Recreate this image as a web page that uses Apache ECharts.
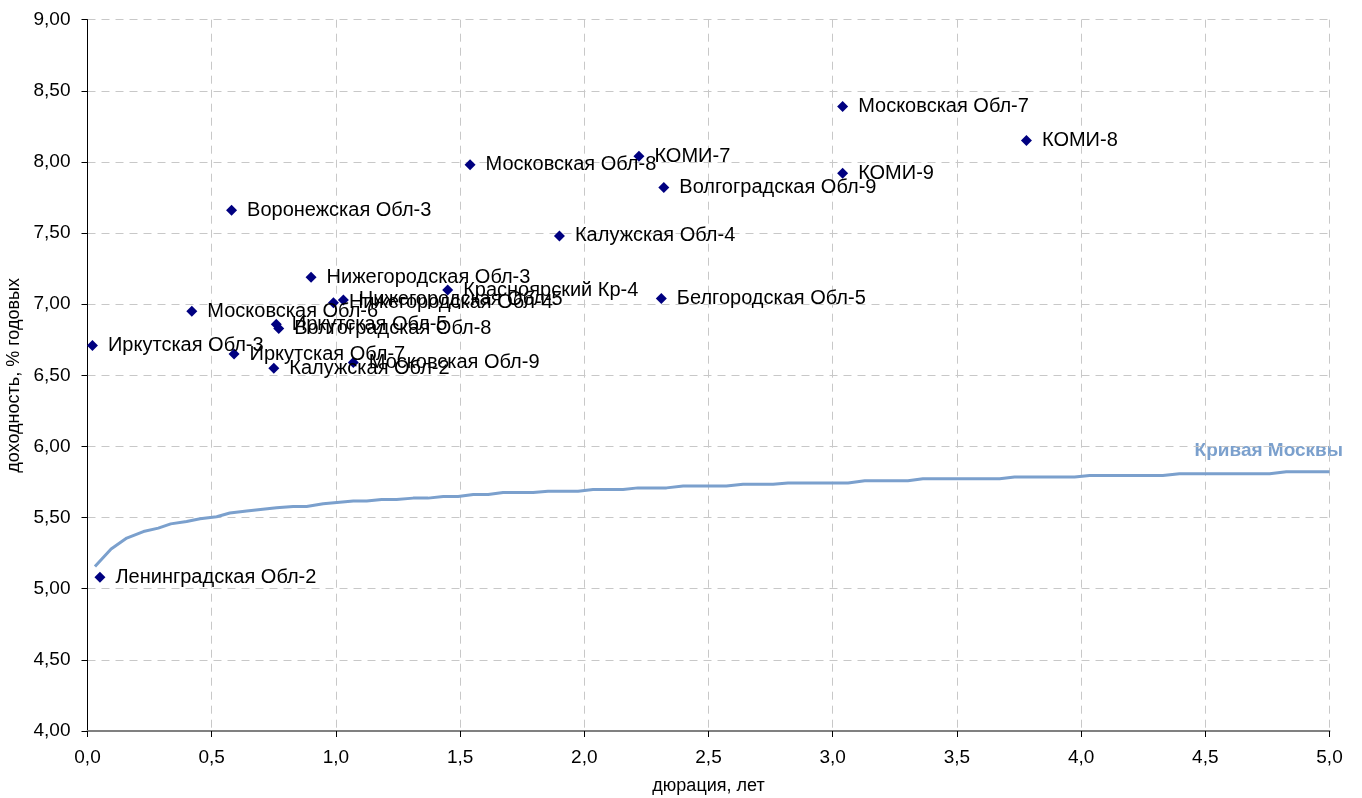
<!DOCTYPE html>
<html>
<head>
<meta charset="utf-8">
<script src="https://cdn.jsdelivr.net/npm/echarts@6/dist/echarts.min.js"></script>
<style>
html,body{margin:0;padding:0;background:#fff;}
#chart{width:1362px;height:798px;}
</style>
</head>
<body>
<div id="chart"></div>
<script>
const issuerNames = [
  'Иркутская Обл-3','Московская Обл-6','Воронежская Обл-3','Иркутская Обл-7',
  'Калужская Обл-2','Иркутская Обл-5','Волгоградская Обл-8','Нижегородская Обл-3',
  'Нижегородская Обл-4','Нижегородская Обл-5','Красноярский Кр-4','Московская Обл-9',
  'Московская Обл-8','КОМИ-7','Волгоградская Обл-9','Калужская Обл-4',
  'Белгородская Обл-5','КОМИ-9','Московская Обл-7','КОМИ-8','Ленинградская Обл-2'
];
const issuerDuration = [
  0.02,0.42,0.58,0.59,
  0.75,0.76,0.77,0.90,
  0.99,1.03,1.45,1.07,
  1.54,2.22,2.32,1.90,
  2.31,3.04,3.04,3.78,0.05
];
const issuerYield = [
  6.71,6.95,7.66,6.65,
  6.55,6.86,6.83,7.19,
  7.01,7.03,7.10,6.59,
  7.98,8.04,7.82,7.48,
  7.04,7.92,8.39,8.15,5.08
];
const curveDuration = [
  0.030,0.095,0.158,0.225,0.285,0.335,0.399,0.453,0.520,0.573,0.641,0.761,0.828,0.882,0.949,
  1.070,1.124,1.184,1.244,1.311,1.371,1.432,1.492,1.553,1.613,1.673,1.794,1.854,1.975,
  2.035,2.156,2.216,2.331,2.398,2.572,2.639,2.760,2.820,3.062,3.129,3.303,3.363,3.672,
  3.732,3.974,4.034,4.329,4.396,4.759,4.826,5.000
];
const curveYield = [
  5.156,5.279,5.356,5.402,5.426,5.456,5.473,5.492,5.506,5.532,5.546,5.569,5.578,5.578,5.597,
  5.616,5.616,5.627,5.627,5.637,5.637,5.648,5.648,5.662,5.662,5.676,5.676,5.686,5.686,
  5.697,5.697,5.709,5.709,5.723,5.723,5.735,5.735,5.744,5.744,5.759,5.759,5.773,5.773,
  5.785,5.785,5.796,5.796,5.808,5.808,5.822,5.822
];
const curveName = 'Кривая Москвы';
const xAxisTitle = 'дюрация, лет';
const yAxisTitle = 'доходность, % годовых';

const FONT = '"Liberation Sans", Arial, sans-serif';
const scatterData = issuerNames.map((n, i) => ({ name: n, value: [issuerDuration[i], issuerYield[i]] }));
const lineData = curveDuration.map((d, i) => [d, curveYield[i]]);

const chart = echarts.init(document.getElementById('chart'), null, { renderer: 'canvas' });
chart.setOption({
  animation: false,
  backgroundColor: '#ffffff',
  grid: { left: 87.5, right: 32.5, top: 19.7, bottom: 67, containLabel: false, outerBoundsMode: 'none' },
  xAxis: {
    type: 'value', min: 0, max: 5, interval: 0.5,
    name: xAxisTitle, nameLocation: 'middle', nameGap: 46,
    nameTextStyle: { fontFamily: FONT, fontSize: 18, color: '#000' },
    axisLine: { show: true, lineStyle: { color: '#808080', width: 2 } },
    axisTick: { show: true, length: 6, lineStyle: { color: '#000' } },
    axisLabel: { fontFamily: FONT, fontSize: 19, color: '#000', margin: 17,
      formatter: v => v.toFixed(1).replace('.', ',') },
    splitLine: { show: true, lineStyle: { color: '#c8c8c8', type: [8, 6], width: 1 } }
  },
  yAxis: {
    type: 'value', min: 4, max: 9, interval: 0.5,
    name: yAxisTitle, nameLocation: 'middle', nameGap: 59, nameRotate: 90,
    nameTextStyle: { fontFamily: FONT, fontSize: 18, color: '#000' },
    axisLine: { show: true, lineStyle: { color: '#000', width: 1 } },
    axisTick: { show: true, length: 6, lineStyle: { color: '#000' } },
    axisLabel: { fontFamily: FONT, fontSize: 19, color: '#000', margin: 17,
      formatter: v => v.toFixed(2).replace('.', ',') },
    splitLine: { show: true, lineStyle: { color: '#c8c8c8', type: [8, 6], width: 1 } }
  },
  graphic: [{
    type: 'text', right: 19, top: 441,
    style: { text: curveName, fontFamily: FONT, fontSize: 19, fontWeight: 'bold', fill: '#7ba0cd' }
  }],
  series: [
    {
      name: curveName, type: 'line', data: lineData, showSymbol: false, symbol: 'none',
      lineStyle: { color: '#7ba0cd', width: 3 }, z: 2
    },
    {
      name: 'issuers', type: 'scatter', data: scatterData, symbol: 'diamond', symbolSize: 11,
      itemStyle: { color: '#000080', opacity: 1 }, z: 3,
      label: { show: true, position: 'right', distance: 10, formatter: p => p.name,
        fontFamily: FONT, fontSize: 20, color: '#000' }
    }
  ]
});
</script>
</body>
</html>
